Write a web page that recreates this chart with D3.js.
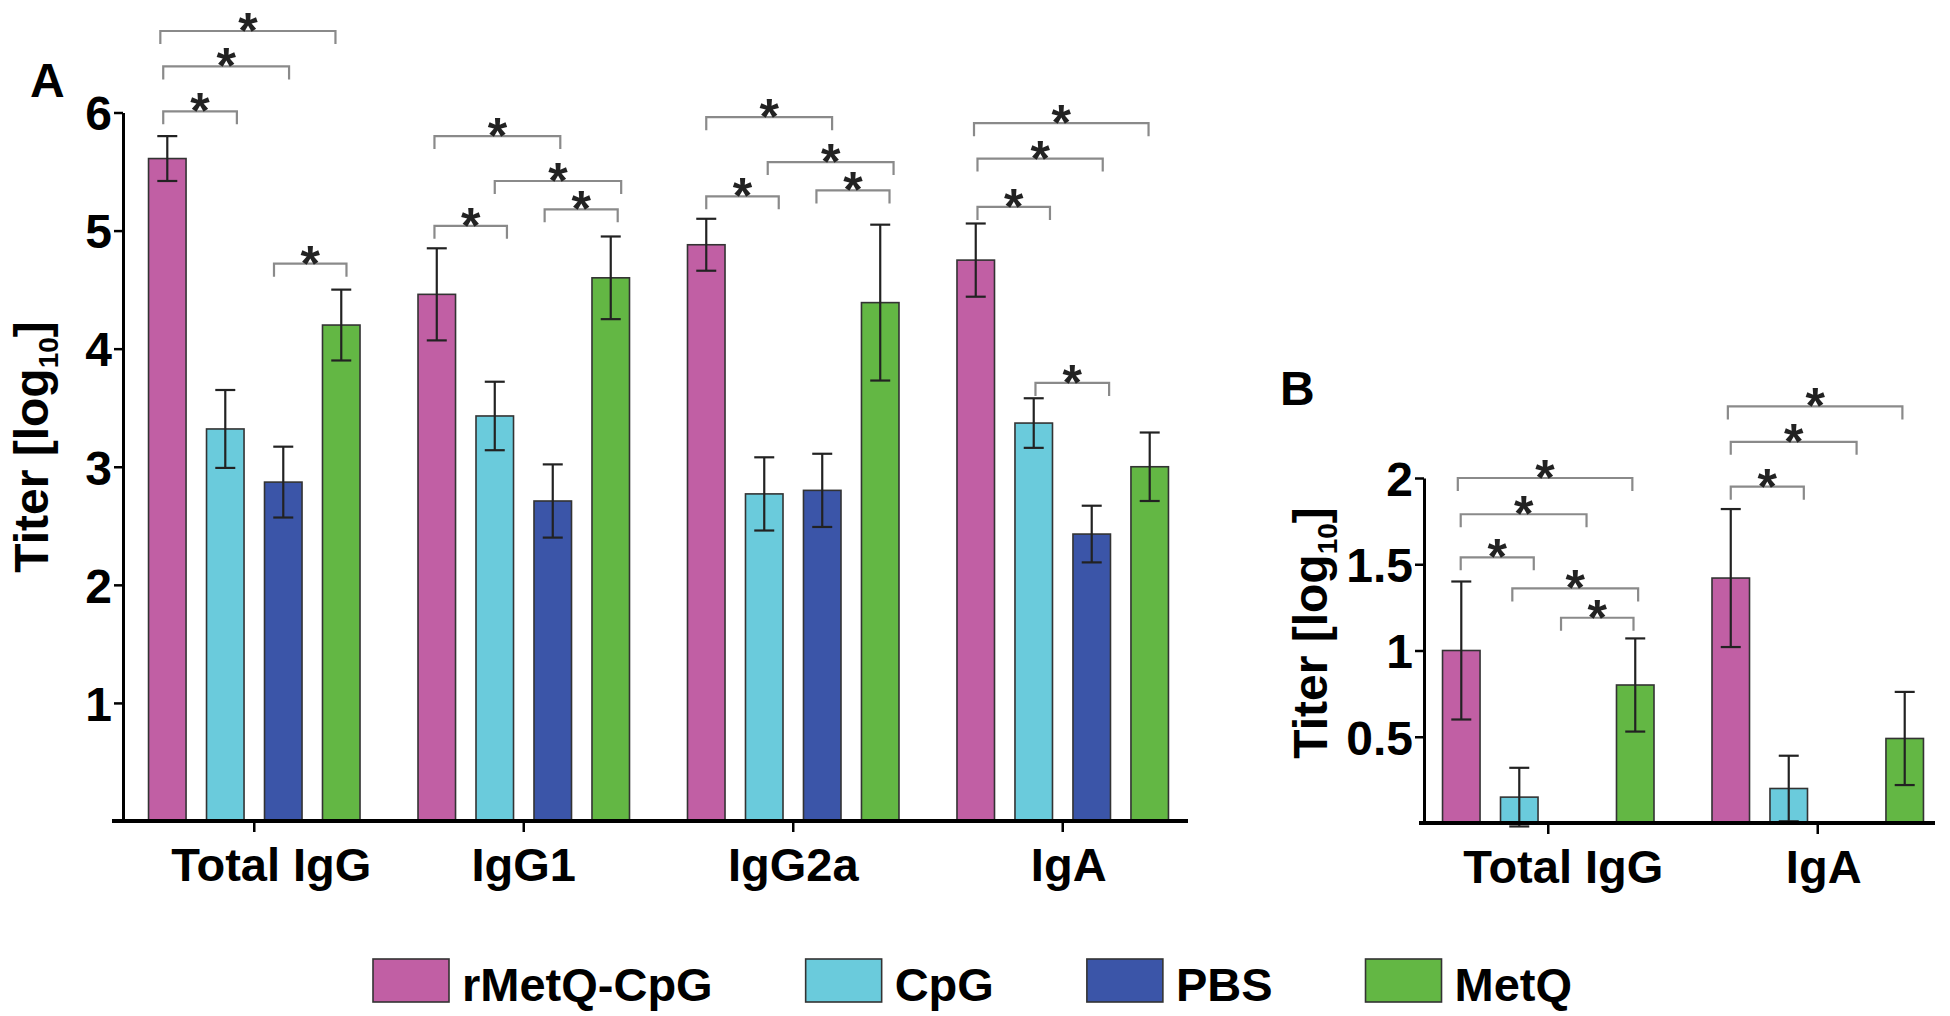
<!DOCTYPE html>
<html>
<head>
<meta charset="utf-8">
<script src="https://cdn.jsdelivr.net/npm/d3@7"></script>
<style>
  body { margin: 0; background: #fff; }
  svg text { font-family: 'Liberation Sans', Arial, sans-serif; font-weight: bold; fill: #000; }
</style>
</head>
<body>
<div id="chart"></div>
<script>
'use strict';

// Series (same four groups of mice in both panels)
const series = ['rMetQ-CpG', 'CpG', 'PBS', 'MetQ'];
const seriesColors = ['#c15fa4', '#6acbdc', '#3b55a8', '#63b744'];

// Panel A
const groupsA = ['Total IgG', 'IgG1', 'IgG2a', 'IgA'];
const labelShiftA = [17, 0, 0, 6]; // category labels sit a bit right of their ticks
const ticksA = [1, 2, 3, 4, 5, 6];
// mean titer [log10], rows = groups, cols = series
const meansA = [
    [5.61, 3.32, 2.87, 4.20],
    [4.46, 3.43, 2.71, 4.60],
    [4.88, 2.77, 2.80, 4.39],
    [4.75, 3.37, 2.43, 3.00]
];
const errsA = [
    [0.19, 0.33, 0.30, 0.30],
    [0.39, 0.29, 0.31, 0.35],
    [0.22, 0.31, 0.31, 0.66],
    [0.31, 0.21, 0.24, 0.29]
];
// significance brackets: [group, from bar, to bar, height in log10]
const bracketsA = [
    [0, -0.07, 1.20, 6.01], [0, -0.07, 2.10, 6.39], [0, -0.12, 2.90, 6.69], [0, 1.84, 3.09, 4.72],
    [1, -0.04, 2.13, 5.80], [1, 1.00, 3.18, 5.42], [1, 1.86, 3.12, 5.18], [1, -0.04, 1.21, 5.04],
    [2, 0.00, 2.17, 5.96], [2, 1.06, 3.23, 5.58], [2, 1.90, 3.16, 5.34], [2, 0.00, 1.25, 5.29],
    [3, -0.03, 2.98, 5.91], [3, 0.03, 2.19, 5.61], [3, 0.03, 1.28, 5.20], [3, 1.03, 2.30, 3.71]
];

// Panel B
const groupsB = ['Total IgG', 'IgA'];
const labelShiftB = [15, 6];
const ticksB = [0.5, 1, 1.5, 2];
const meansB = [
    [1.00, 0.15, 0, 0.80],
    [1.42, 0.20, 0, 0.49]
];
const errsB = [
    [0.40, 0.17, 0, 0.27],
    [0.40, 0.19, 0, 0.27]
];
const bracketsB = [
    [0, -0.06, 2.95, 2.00], [0, -0.01, 2.16, 1.79], [0, -0.01, 1.25, 1.54], [0, 0.88, 3.05, 1.36], [0, 1.72, 2.97, 1.19],
    [1, -0.05, 2.96, 2.415], [1, 0.00, 2.17, 2.21], [1, 0.00, 1.26, 1.95]
];

const width = 1950, height = 1016;

const svg = d3.select('#chart')
    .append('svg')
    .attr('width', width)
    .attr('height', height);

svg.append('rect').attr('width', width).attr('height', height).attr('fill', '#fff');

class GroupedBarChart {
    #x0;
    #x1;
    #y;

    constructor(svg, cfg) {
        this.cfg = cfg;
        this.chart = svg.append('g');
        this.#x0 = d3.scaleBand();
        this.#x1 = d3.scaleBand();
        this.#y = d3.scaleLinear();
    }

    #updateScales() {
        const c = this.cfg;
        this.#x0.domain(this.groups).range(c.xRange).paddingInner(0.13).paddingOuter(0.041);
        this.#x1.domain(series).range([0, this.#x0.bandwidth()]).paddingInner(0.353).paddingOuter(0.198);
        this.#y.domain(c.yDomain).range(c.yRange);
    }

    // centre of a (possibly fractional) bar slot inside a group
    #slotX(gi, pos) {
        return this.#x0(this.groups[gi]) + this.#x1(series[0]) + pos * this.#x1.step() + this.#x1.bandwidth() / 2;
    }

    render(groups, means, errs, brackets, labelShift) {
        this.groups = groups;
        this.#updateScales();
        const c = this.cfg, x0 = this.#x0, x1 = this.#x1, y = this.#y;
        const base = y(0);

        let bars = [];
        groups.forEach((g, gi) => series.forEach((s, si) => {
            bars.push({ g: g, gi: gi, s: s, si: si, v: means[gi][si], e: errs[gi][si] });
        }));
        bars = bars.filter(d => d.v > 0);

        // bars
        this.chart.selectAll('rect.bar')
            .data(bars)
            .join('rect')
            .classed('bar', true)
            .attr('x', d => x0(d.g) + x1(d.s))
            .attr('y', d => y(d.v))
            .attr('width', x1.bandwidth())
            .attr('height', d => base - y(d.v))
            .attr('fill', d => seriesColors[d.si])
            .attr('stroke', '#333')
            .attr('stroke-width', 1.6);

        // error bars
        const eb = this.chart.selectAll('g.err')
            .data(bars)
            .join('g')
            .classed('err', true)
            .attr('transform', d => `translate(${x0(d.g) + x1(d.s) + x1.bandwidth() / 2},0)`)
            .attr('stroke', '#222')
            .attr('stroke-width', 2.2);
        eb.append('line').attr('y1', d => y(d.v + d.e)).attr('y2', d => y(d.v - d.e));
        eb.append('line').attr('x1', -10).attr('x2', 10).attr('y1', d => y(d.v + d.e)).attr('y2', d => y(d.v + d.e));
        eb.append('line').attr('x1', -10).attr('x2', 10).attr('y1', d => y(d.v - d.e)).attr('y2', d => y(d.v - d.e));

        // significance brackets
        const br = this.chart.selectAll('g.bracket')
            .data(brackets)
            .join('g')
            .classed('bracket', true);
        br.append('path')
            .attr('d', d => {
                const xa = this.#slotX(d[0], d[1]), xb = this.#slotX(d[0], d[2]), yy = y(d[3]);
                return `M${xa},${yy + 13}V${yy}H${xb}V${yy + 13}`;
            })
            .attr('fill', 'none')
            .attr('stroke', '#8a8a8a')
            .attr('stroke-width', 2.2);
        br.append('text')
            .attr('x', d => (this.#slotX(d[0], d[1]) + this.#slotX(d[0], d[2])) / 2)
            .attr('y', d => y(d[3]) + 17)
            .attr('text-anchor', 'middle')
            .style('font-size', '50px')
            .style('fill', '#222')
            .text('*');

        // y axis
        const ya = this.chart.append('g')
            .attr('transform', `translate(${c.axisX},0)`)
            .call(d3.axisLeft(y).tickValues(c.ticks).tickSize(9).tickSizeOuter(0).tickPadding(2).tickFormat(d => d));
        ya.select('.domain').attr('stroke', '#000').attr('stroke-width', 3);
        ya.selectAll('.tick line').attr('stroke', '#000').attr('stroke-width', 2.5);
        ya.selectAll('.tick text').style('font-size', '48px').attr('dy', '0.36em');

        // x axis (baseline + category ticks)
        const xa = this.chart.append('g')
            .attr('transform', `translate(0,${base})`)
            .call(d3.axisBottom(x0).tickSize(11).tickSizeOuter(0).tickPadding(16));
        xa.select('.domain').remove();
        xa.selectAll('.tick line').attr('stroke', '#000').attr('stroke-width', 2.5);
        xa.selectAll('.tick text')
            .style('font-size', '47px')
            .attr('dx', (d, i) => labelShift[i]);
        this.chart.append('line')
            .attr('x1', c.baseX[0]).attr('x2', c.baseX[1])
            .attr('y1', base).attr('y2', base)
            .attr('stroke', '#000').attr('stroke-width', 4);

        // axis title
        const t = this.chart.append('text')
            .attr('transform', `translate(${c.titleX},${c.titleY}) rotate(-90)`)
            .attr('text-anchor', 'middle')
            .style('font-size', '48px');
        t.append('tspan').text('Titer [log');
        t.append('tspan').attr('dy', 10).style('font-size', '28px').text('10');
        t.append('tspan').attr('dy', -10).text(']');

        // panel letter
        this.chart.append('text')
            .attr('x', c.letterPos[0]).attr('y', c.letterPos[1])
            .style('font-size', '48px')
            .text(c.letter);
    }
}

const chartA = new GroupedBarChart(svg, {
    xRange: [126, 1191], yDomain: [0, 6], yRange: [821, 112.5], ticks: ticksA,
    axisX: 123, baseX: [112, 1188], titleX: 48, titleY: 447, letter: 'A', letterPos: [30, 97]
});
chartA.render(groupsA, meansA, errsA, bracketsA, labelShiftA);

const chartB = new GroupedBarChart(svg, {
    xRange: [1420, 1946], yDomain: [0, 2], yRange: [823, 478], ticks: ticksB,
    axisX: 1424, baseX: [1419, 1935], titleX: 1327, titleY: 633, letter: 'B', letterPos: [1280, 405]
});
chartB.render(groupsB, meansB, errsB, bracketsB, labelShiftB);

// legend
const legend = svg.append('g').attr('transform', 'translate(373,959)');
let lx = 0;
series.forEach((s, i) => {
    const item = legend.append('g').attr('transform', `translate(${lx},0)`);
    item.append('rect')
        .attr('width', 76).attr('height', 43)
        .attr('fill', seriesColors[i])
        .attr('stroke', '#333').attr('stroke-width', 1.6);
    const txt = item.append('text')
        .attr('x', 89).attr('y', 42)
        .style('font-size', '47px')
        .text(s);
    lx += 89 + txt.node().getComputedTextLength() + 93;
});
</script>
</body>
</html>
